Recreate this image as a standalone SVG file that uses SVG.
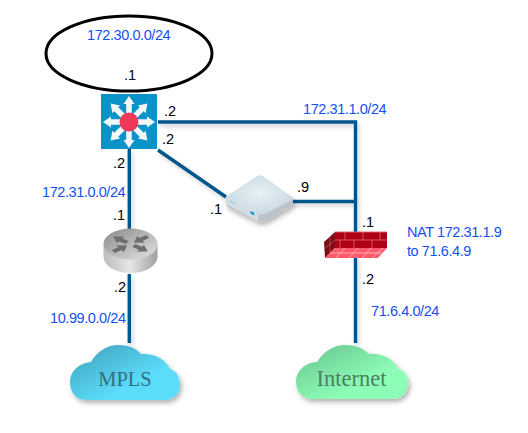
<svg xmlns="http://www.w3.org/2000/svg" width="528" height="433" viewBox="0 0 528 433">
<style>
text{font-family:"Liberation Sans",Arial,sans-serif;font-size:14.5px}
.b{fill:#1450f0;letter-spacing:-.42px}
.k{fill:#000;font-size:14.500px}
.c{fill:none;stroke:#05568c;stroke-width:3.4}
.cl{font-family:"Liberation Serif","Times New Roman",serif;text-anchor:middle}
</style>
<defs>
<filter id="sh" x="-20%" y="-20%" width="140%" height="150%"><feDropShadow dx="2" dy="3" stdDeviation="2.5" flood-color="#000" flood-opacity=".3"/></filter>
<filter id="ls" x="-10%" y="-10%" width="120%" height="120%"><feDropShadow dx="2" dy="3" stdDeviation="2" flood-color="#000" flood-opacity=".18"/></filter>
<linearGradient id="mp" x1="0" y1="0" x2="1" y2="1"><stop offset="0" stop-color="#3f9fb8"/><stop offset=".65" stop-color="#5bdcfb"/></linearGradient>
<linearGradient id="ig" x1="0" y1="0" x2="1" y2="1"><stop offset="0" stop-color="#66c28f"/><stop offset=".65" stop-color="#8dfcb6"/></linearGradient>
<linearGradient id="rt" x1="0" y1="0" x2="1" y2="0"><stop offset="0" stop-color="#bcbcbc"/><stop offset=".5" stop-color="#e6e6e6"/><stop offset="1" stop-color="#a0a0a0"/></linearGradient>
<linearGradient id="rtop" x1="0" y1="0" x2="1" y2="1"><stop offset="0" stop-color="#8a8a8a"/><stop offset="1" stop-color="#e4e4e4"/></linearGradient>
<radialGradient id="ap" cx=".5" cy=".45" r=".55"><stop offset="0" stop-color="#e6f1f6"/><stop offset="1" stop-color="#cad9e1"/></radialGradient>
<path id="cloud" d="M16 55C5 55 0 46 0 37C0 27 8 18 21 17C27 6 38 0 48 0C58 0 66 3 71 9C86 8 96 15 100 24C107 26 110 33 110 40C110 48 104 55 95 55Z"/>
<path id="arw" d="M-2.800-8V-18H-5.500L0-26L5.500-18H2.800V-8Z" fill="#f2f7fa"/>
<path id="ra" d="M0-2.800H8V-6.500L17 0L8 6.500V2.800H0Z" fill="#6e6e6e"/>
</defs>
<g id="connectors" filter="url(#ls)">
<path class="c" d="M158 122H355.500V232M355.500 257V343M292 201.500H355.500M158 150L226 197M129.300 149V229M129.300 274V343"/>
</g>
<g id="net-172-30">
<ellipse cx="129" cy="53.500" rx="83" ry="37.500" fill="#fff" stroke="#000" stroke-width="3"/>
<text class="b" x="87" y="39.500">172.30.0.0/24</text>
<text class="k" x="124" y="80">.1</text>
</g>
<g id="switch">
<rect x="101" y="94" width="56" height="55" fill="#0a93c8"/>
<g transform="translate(129 122)">
<use href="#arw"/><use href="#arw" transform="rotate(45)"/><use href="#arw" transform="rotate(90)"/><use href="#arw" transform="rotate(135)"/><use href="#arw" transform="rotate(180)"/><use href="#arw" transform="rotate(225)"/><use href="#arw" transform="rotate(270)"/><use href="#arw" transform="rotate(315)"/>
<circle r="9.500" fill="#ee3a58"/>
</g>
<text class="k" x="164" y="116">.2</text>
<text class="k" x="162" y="144">.2</text>
<text class="k" x="113" y="168">.2</text>
</g>
<g id="router">
<path d="M103.500 244V256C103.500 266 115 273 130.500 273C146 273 157.500 266 157.500 256V244Z" fill="url(#rt)"/>
<ellipse cx="130.500" cy="244" rx="27" ry="15.500" fill="url(#rtop)"/>
<g transform="translate(130.500 244) scale(1 .62)">
<use href="#ra" transform="rotate(-145) translate(4 0)"/>
<use href="#ra" transform="rotate(35) translate(4 0)"/>
<use href="#ra" transform="rotate(-35) translate(21 0) rotate(180)"/>
<use href="#ra" transform="rotate(145) translate(21 0) rotate(180)"/>
</g>
<text class="k" x="114" y="292">.2</text>
</g>
<g id="appliance">
<path d="M226 197V204C226 205 227 206 228 207L256 221C259 222 263 222 266 221L291 206C292 205 293 204 293 203V197Z" fill="#bcc4c9" filter="url(#sh)"/>
<path d="M226 204L258 221V214L226 197Z" fill="#d3dee3"/>
<path d="M227 196L257 176C259 175 261 175 263 176L292 197C293 198 293 199 292 200L265 214C262 215 259 215 256 214L227 199C226 198 226 197 227 196Z" fill="url(#ap)"/>
<path d="M250 211L254 212.500L254.500 215.500L251 214Z" fill="#1a9ac9"/>
<path d="M230 201L235 204" stroke="#8fc3d8" fill="none"/>
<text class="k" x="297" y="192">.9</text>
<text class="k" x="210" y="214">.1</text>
</g>
<g id="firewall">
<path d="M324 242L335 232V248L325 258Z" fill="#7d0a14"/>
<path d="M324 249L335 240M330 237V253" fill="none" stroke="#b86068" stroke-width=".7"/>
<rect x="335" y="232" width="52" height="16" fill="#b00018"/>
<path d="M335 248H387L378 258H325Z" fill="#ff5a6c"/>
<path d="M335 232H387M335 240H387M345 232V240M354 240V248M363 232V240M372 240V248M380 232V240M340 240V248" fill="none" stroke="#d8606a" stroke-width=".9"/>
<path d="M330 253H383M345 248L336 258M358 248L349 258M371 248L362 258M383 248L372 258" fill="none" stroke="#ffb4ba" stroke-width=".9"/>
<text class="k" x="362" y="227">.1</text>
<text class="k" x="362" y="284">.2</text>
<text class="b" x="407" y="237">NAT 172.31.1.9</text>
<text class="b" x="407" y="256">to 71.6.4.9</text>
</g>
<g id="cloud-mpls">
<use href="#cloud" transform="translate(70 345)" fill="url(#mp)" filter="url(#sh)"/>
<text class="cl" x="125" y="386" fill="#33707f" font-size="20.500" style="font-size:20.500px">MPLS</text>
</g>
<g id="cloud-internet">
<use href="#cloud" transform="translate(296 345) scale(1.02 .98)" fill="url(#ig)" filter="url(#sh)"/>
<text class="cl" x="351.500" y="385.500" fill="#4d7f63" style="font-size:22.500px">Internet</text>
</g>
<g id="labels">
<text class="b" x="303" y="114">172.31.1.0/24</text>
<text class="b" x="42" y="197">172.31.0.0/24</text>
<text class="k" x="113" y="220">.1</text>
<text class="b" x="50" y="323">10.99.0.0/24</text>
<text class="b" x="371" y="316">71.6.4.0/24</text>
</g>
</svg>
